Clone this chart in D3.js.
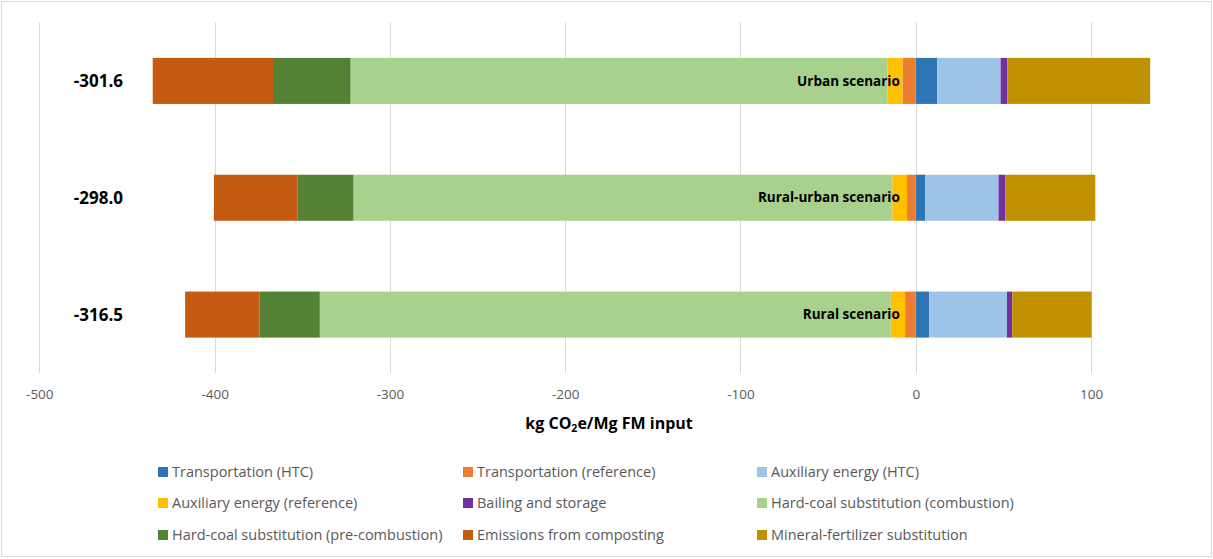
<!DOCTYPE html>
<html>
<head>
<meta charset="utf-8">
<script src="https://cdn.jsdelivr.net/npm/d3@7"></script>
<style>
  body { margin: 0; background: #fff; }
  svg { display: block; font-family: "Open Sans", Lato, sans-serif; }
</style>
</head>
<body>
<div id="chart"></div>
<script>
// scenarios, top to bottom
const scenarios = ['Urban scenario', 'Rural-urban scenario', 'Rural scenario'];
const netTotals = [-301.6, -298.0, -316.5];

// series (legend order) and values per scenario, kg CO2e/Mg FM input
const seriesNames = [
  'Transportation (HTC)',
  'Transportation (reference)',
  'Auxiliary energy (HTC)',
  'Auxiliary energy (reference)',
  'Bailing and storage',
  'Hard-coal substitution (combustion)',
  'Hard-coal substitution (pre-combustion)',
  'Emissions from composting',
  'Mineral-fertilizer substitution'
];
const seriesColors = ['#2e75b6', '#ed7d31', '#9dc3e6', '#ffc000', '#7030a0', '#a9d18e', '#548235', '#c55a11', '#bf9000'];

const transportHTC   = [12.2, 5.3, 7.6];
const transportRef   = [-7.6, -5.0, -6.1];
const auxHTC         = [36.2, 41.9, 44.4];
const auxRef         = [-8.4, -8.4, -8.2];
const bailing        = [3.8, 3.8, 3.0];
const coalCombustion = [-306.5, -307.4, -325.7];
const coalPreComb    = [-44.2, -32.0, -34.3];
const composting     = [-68.6, -47.6, -42.5];
const fertilizer     = [81.5, 51.4, 45.3];

const xTicks = [-500, -400, -300, -200, -100, 0, 100];

const W = 1213, H = 559;
const seriesValues = [transportHTC, transportRef, auxHTC, auxRef, bailing, coalCombustion, coalPreComb, composting, fertilizer];

const rows = scenarios.map((s, i) => {
  const r = { scenario: s };
  seriesNames.forEach((n, k) => { r[n] = seriesValues[k][i]; });
  return r;
});

const stacked = d3.stack()
  .keys(seriesNames)
  .offset(d3.stackOffsetDiverging)(rows);

const x = d3.scaleLinear().domain([-500, 150]).range([39.3, 39.3 + 650 * 1.753]);
const y = d3.scaleBand().domain(scenarios).range([22.5, 373])
  .paddingInner(0.606).paddingOuter(0.303);

const svg = d3.select('#chart').append('svg')
  .attr('width', W).attr('height', H);

svg.append('rect')
  .attr('x', 1.5).attr('y', 1.5)
  .attr('width', W - 3).attr('height', H - 4)
  .attr('fill', '#fff').attr('stroke', '#d9d9d9');

// gridlines
svg.append('g').selectAll('line')
  .data(xTicks)
  .join('line')
    .attr('x1', d => Math.round(x(d)) + 0.5).attr('x2', d => Math.round(x(d)) + 0.5)
    .attr('y1', 22.5).attr('y2', 373)
    .attr('stroke', '#d9d9d9').attr('stroke-width', 1);

// bars
svg.append('g').selectAll('g')
  .data(stacked)
  .join('g')
    .attr('fill', (d, i) => seriesColors[i])
  .selectAll('rect')
  .data(d => d)
  .join('rect')
    .attr('x', d => x(Math.min(d[0], d[1])))
    .attr('width', d => Math.abs(x(d[1]) - x(d[0])))
    .attr('y', d => y(d.data.scenario))
    .attr('height', y.bandwidth());

// scenario labels inside the bars
svg.append('g').selectAll('text')
  .data(scenarios)
  .join('text')
    .attr('x', x(0) - 16)
    .attr('y', d => y(d) + y.bandwidth() / 2)
    .attr('dy', '0.35em')
    .attr('text-anchor', 'end')
    .attr('font-size', 13.5).attr('font-weight', 'bold').attr('fill', '#000')
    .text(d => d);

// net totals on the left
svg.append('g').selectAll('text')
  .data(netTotals)
  .join('text')
    .attr('x', 123)
    .attr('y', (d, i) => y(scenarios[i]) + y.bandwidth() / 2)
    .attr('dy', '0.35em')
    .attr('text-anchor', 'end')
    .attr('font-size', 17).attr('font-weight', 'bold').attr('fill', '#000')
    .text(d => d.toFixed(1));

// x axis labels
const axis = svg.append('g')
  .attr('transform', 'translate(0,373)')
  .call(d3.axisBottom(x).tickValues(xTicks).tickSize(0).tickPadding(16).tickFormat(d => String(d)));
axis.select('.domain').remove();
axis.selectAll('text')
  .attr('font-family', '"Open Sans", sans-serif')
  .attr('font-size', 13.5).attr('fill', '#595959');

// axis title, centred on the plot area
const title = svg.append('text')
  .attr('x', (x.range()[0] + x.range()[1]) / 2).attr('y', 429)
  .attr('text-anchor', 'middle')
  .attr('font-size', 16).attr('font-weight', 'bold').attr('fill', '#000');
title.append('tspan').text('kg CO');
title.append('tspan').attr('font-size', 10.5).attr('dy', 3).text('2');
title.append('tspan').attr('dy', -3).text('e/Mg FM input');

// legend, 3 columns
const legCols = [158, 463, 757];
const legRows = [472, 503, 535];
const legend = svg.append('g').selectAll('g')
  .data(seriesNames)
  .join('g')
    .attr('transform', (d, i) => `translate(${legCols[i % 3]},${legRows[Math.floor(i / 3)]})`);
legend.append('rect')
  .attr('x', 0).attr('y', -5).attr('width', 10).attr('height', 10)
  .attr('fill', (d, i) => seriesColors[i]);
legend.append('text')
  .attr('x', 14).attr('dy', '0.35em')
  .attr('font-size', 14.5).attr('fill', '#595959')
  .text(d => d);
</script>
</body>
</html>
